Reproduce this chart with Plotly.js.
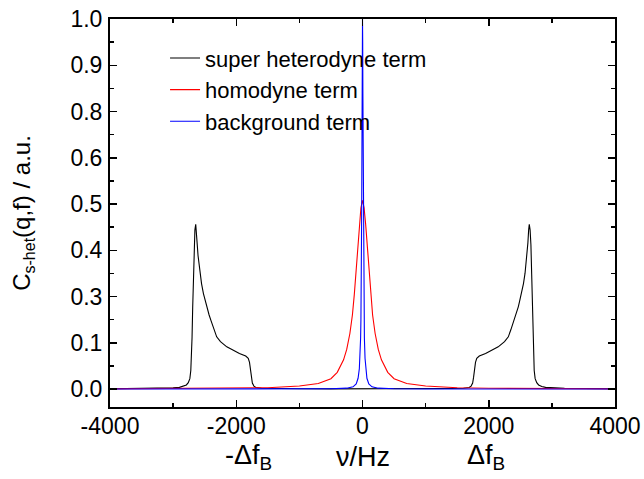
<!DOCTYPE html>
<html><head><meta charset="utf-8">
<script src="https://cdn.plot.ly/plotly-3.0.1.min.js"></script>
<style>html,body{margin:0;padding:0;background:#fff}</style>
</head><body><div id="chart" style="width:644px;height:479px"></div>
<script>
const freqSuper = [-4000,-3500,-3200,-3000,-2900,-2840,-2790,-2760,-2735,-2720,-2710,-2700,-2690,-2680,-2668,-2655,-2642,-2632,-2620,-2605,-2590,-2575,-2550,-2520,-2490,-2468,-2430,-2400,-2350,-2310,-2250,-2150,-2046,-1950,-1850,-1810,-1790,-1775,-1760,-1745,-1720,-1690,-1600,-1400,-1000,-500,0,
  500,1000,1400,1600,1690,1720,1745,1760,1775,1790,1810,1850,1950,2046,2150,2250,2310,2350,2400,2430,2468,2490,2520,2550,2575,2590,2605,2620,2632,2642,2655,2668,2680,2690,2700,2710,2720,2735,2760,2790,2840,2900,3000,3200,3500,4000];
const valSuper = [0.0008,0.0013,0.002,0.003,0.0045,0.007,0.011,0.017,0.028,0.05,0.09,0.14,0.22,0.31,0.39,0.43,0.445,0.43,0.395,0.36,0.335,0.313,0.285,0.258,0.238,0.222,0.2,0.185,0.16,0.141,0.128,0.114,0.105,0.096,0.089,0.083,0.072,0.055,0.032,0.016,0.008,0.004,0.002,0.0012,0.0007,0.0004,0.0003,
  0.0004,0.0007,0.0012,0.002,0.004,0.008,0.016,0.032,0.055,0.072,0.083,0.089,0.096,0.105,0.114,0.128,0.141,0.16,0.185,0.2,0.222,0.238,0.258,0.285,0.313,0.335,0.36,0.395,0.43,0.445,0.43,0.39,0.31,0.22,0.14,0.09,0.05,0.028,0.017,0.011,0.007,0.0045,0.003,0.002,0.0013,0.0008];

const freqHomo = [-4000,-3000,-2000,-1500,-1000,-700,-500,-400,-300,-250,-200,-160,-130,-100,-75,-50,-25,0,25,50,75,100,130,160,200,250,300,400,500,700,1000,1500,2000,3000,4000];
const valHomo = [0.0005,0.001,0.002,0.0035,0.008,0.015,0.028,0.045,0.079,0.107,0.15,0.2,0.255,0.32,0.383,0.445,0.49,0.51,0.49,0.445,0.383,0.32,0.255,0.2,0.15,0.107,0.079,0.045,0.028,0.015,0.008,0.0035,0.002,0.001,0.0005];

const freqBack = [-4000,-1000,-500,-250,-150,-100,-70,-50,-40,-30,-25,-20,-16,-12,-9,-6,-3,0,3,6,9,12,16,20,25,30,40,50,70,100,150,250,500,1000,4000];
const valBack = [0,0.0002,0.0006,0.0023,0.006,0.014,0.029,0.055,0.083,0.138,0.187,0.265,0.36,0.5,0.64,0.8,0.94,1.0,0.94,0.8,0.64,0.5,0.36,0.265,0.187,0.138,0.083,0.055,0.029,0.014,0.006,0.0023,0.0006,0.0002,0];

const seriesNames = ['super heterodyne term','homodyne term','background term'];
const seriesColors = ['#000000','#ff0000','#0000ff'];

const yTickVals = [0,0.125,0.25,0.375,0.5,0.625,0.75,0.875,1.0];
const yTickText = ['0.0','0.1','0.3','0.4','0.5','0.6','0.8','0.9','1.0'];
const xTickVals = [-4000,-2000,0,2000,4000];
const xTickText = ['-4000','-2000','0','2000','4000'];
const bottomLabelX = [-1810,0,1950];
const bottomLabelText = ['-Δf<sub>B</sub>','ν/Hz','Δf<sub>B</sub>'];

const FONT = 'Arial, "Liberation Sans", sans-serif';

const traces = [
  {x: freqSuper, y: valSuper},
  {x: freqHomo, y: valHomo},
  {x: freqBack, y: valBack}
].map((d,i)=>({x:d.x, y:d.y, type:'scatter', mode:'lines', name:seriesNames[i],
  line:{color:seriesColors[i], width:1.1}}));

const layout = {
  width:644, height:479,
  margin:{l:110, r:29, t:19, b:72},
  paper_bgcolor:'#fff', plot_bgcolor:'#fff',
  font:{family:FONT, color:'#000', size:22},
  showlegend:true,
  legend:{x:0.109, y:0.953, xanchor:'left', yanchor:'top', bgcolor:'rgba(0,0,0,0)',
    font:{family:FONT, size:22, color:'#000'}, tracegroupgap:0},
  xaxis:{range:[-4000,4000], tickmode:'array', tickvals:xTickVals, ticktext:xTickText,
    ticks:'inside', ticklen:7, tickwidth:1.5, tickcolor:'#000',
    showline:true, linewidth:2, linecolor:'#000', mirror:'allticks',
    showgrid:false, zeroline:false, ticklabelstandoff:-3,
    tickfont:{family:FONT, size:23, color:'#000'},
    minor:{dtick:1000, tick0:0, ticks:'inside', ticklen:4, tickwidth:1.5, tickcolor:'#000', showgrid:false}},
  yaxis:{range:[-0.0486,1.0], tickmode:'array', tickvals:yTickVals, ticktext:yTickText,
    ticks:'inside', ticklen:7, tickwidth:1.5, tickcolor:'#000',
    showline:true, linewidth:2, linecolor:'#000', mirror:'allticks',
    showgrid:false, zeroline:false, ticklabelstandoff:1,
    tickfont:{family:FONT, size:23, color:'#000'},
    minor:{dtick:0.0625, tick0:0, ticks:'inside', ticklen:4, tickwidth:1.5, tickcolor:'#000', showgrid:false},
    title:{text:'C<sub><span style="font-size:16px">s-het</span></sub>(q,f) / a.u.', font:{family:FONT, size:24, color:'#000'}, standoff:33}},
  annotations: bottomLabelX.map((x,i)=>({x:x, xref:'x', y:-0.128, yref:'paper', yanchor:'middle', xanchor:'center',
    text:bottomLabelText[i], showarrow:false, font:{family:FONT, size:27, color:'#000'}}))
};

Plotly.newPlot('chart', traces, layout, {displayModeBar:false, staticPlot:true});
</script>
</body></html>
